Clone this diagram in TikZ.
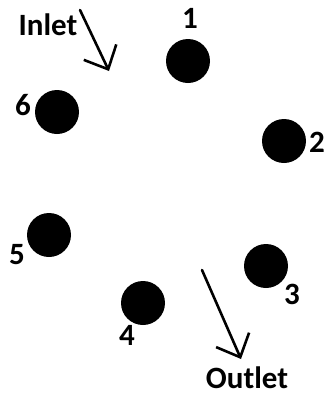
\documentclass[tikz,border=0pt]{standalone}
\usepackage{fontspec}
\setmainfont{Carlito}
\usetikzlibrary{arrows.meta}

\begin{document}
\begin{tikzpicture}[x=1pt,y=-1pt,line cap=round,line join=round,
  hole/.style={circle,fill=black,minimum size=44pt,inner sep=0pt},
  lbl/.style={font=\fontsize{31}{31}\selectfont\bfseries,inner sep=0pt},
  flow/.style={line width=2.6pt,-{Straight Barb[length=19pt,width=36pt,line width=2.6pt]}}]
  \useasboundingbox (0,0) rectangle (327,400);
  % holes
  \node[hole] (c1) at (188,61) {};
  \node[hole] (c2) at (284,141) {};
  \node[hole] (c3) at (266,266) {};
  \node[hole] (c4) at (143,303) {};
  \node[hole] (c5) at (49,235) {};
  \node[hole] (c6) at (57,112) {};
  % numbers
  \node[lbl] (n1) at (190,18) {1};
  \node[lbl] (n2) at (317,142) {2};
  \node[lbl] (n3) at (292,294) {3};
  \node[lbl] (n4) at (127,335) {4};
  \node[lbl] (n5) at (17,255) {5};
  \node[lbl] (n6) at (23,105) {6};
  % inlet / outlet
  \node[lbl] (inlet) at (48,25) {Inlet};
  \node[lbl] (outlet) at (247,378) {Outlet};
  \coordinate (in0) at (80,10);
  \coordinate (in1) at (109,71);
  \coordinate (out0) at (202,270);
  \coordinate (out1) at (241,359);
  \draw[flow] (in0) -- (in1);
  \draw[flow] (out0) -- (out1);
\end{tikzpicture}
\end{document}
